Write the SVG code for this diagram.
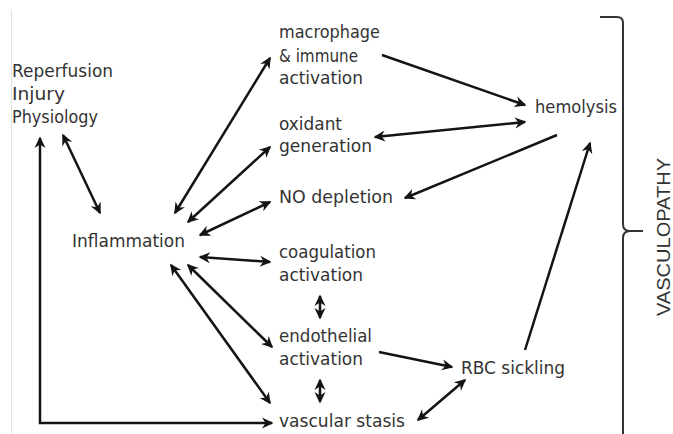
<svg xmlns="http://www.w3.org/2000/svg" width="673" height="434" viewBox="0 0 673 434">
<style>
.t{font-family:"DejaVu Sans","Liberation Sans",sans-serif;font-size:17px;fill:#333}
.c{stroke:#141414;stroke-width:2.5;fill:none;marker-end:url(#ah)}
.b{marker-start:url(#ah)}
</style>
<defs>
<marker id="ah" markerUnits="userSpaceOnUse" markerWidth="16" markerHeight="16" viewBox="-12 -8 16 16" refX="0" refY="0" orient="auto-start-reverse">
<path d="M1.5,0 L-10,-5.5 L-6.5,0 L-10,5.5 Z" fill="#141414"/>
</marker>
</defs>
<rect width="673" height="434" fill="#fff"/>
<line x1="11.5" y1="10" x2="11.5" y2="434" stroke="#e2e2e2" stroke-width="1"/>
<g id="reperfusion"><text class="t" x="12" y="77" textLength="101" lengthAdjust="spacingAndGlyphs">Reperfusion</text><text class="t" x="12" y="100" textLength="53" lengthAdjust="spacingAndGlyphs">Injury</text><text class="t" x="12" y="123" textLength="86" lengthAdjust="spacingAndGlyphs">Physiology</text></g>
<g id="inflammation"><text class="t" x="72" y="247" textLength="113" lengthAdjust="spacingAndGlyphs">Inflammation</text></g>
<g id="macrophage"><text class="t" x="279" y="38" textLength="101" lengthAdjust="spacingAndGlyphs">macrophage</text><text class="t" x="279" y="62" textLength="79" lengthAdjust="spacingAndGlyphs">&amp; immune</text><text class="t" x="279" y="84" textLength="84" lengthAdjust="spacingAndGlyphs">activation</text></g>
<g id="oxidant"><text class="t" x="279" y="130" textLength="63" lengthAdjust="spacingAndGlyphs">oxidant</text><text class="t" x="279" y="152" textLength="93" lengthAdjust="spacingAndGlyphs">generation</text></g>
<g id="no"><text class="t" x="279" y="203" textLength="114" lengthAdjust="spacingAndGlyphs">NO depletion</text></g>
<g id="coagulation"><text class="t" x="279" y="258" textLength="97" lengthAdjust="spacingAndGlyphs">coagulation</text><text class="t" x="279" y="281" textLength="84" lengthAdjust="spacingAndGlyphs">activation</text></g>
<g id="endothelial"><text class="t" x="279" y="342" textLength="93" lengthAdjust="spacingAndGlyphs">endothelial</text><text class="t" x="279" y="365" textLength="84" lengthAdjust="spacingAndGlyphs">activation</text></g>
<g id="stasis"><text class="t" x="279" y="427" textLength="126" lengthAdjust="spacingAndGlyphs">vascular stasis</text></g>
<g id="hemolysis"><text class="t" x="535" y="113" textLength="82" lengthAdjust="spacingAndGlyphs">hemolysis</text></g>
<g id="rbc"><text class="t" x="461" y="374" textLength="104" lengthAdjust="spacingAndGlyphs">RBC sickling</text></g>
<g id="vasculopathy">
<path d="M600,17 L617,17 Q623,17 623,23 L623,224 Q623,231 630,231 L643,231 M630,231 Q623,231 623,238 L623,434" fill="none" stroke="#333" stroke-width="2"/>
<text x="0" y="0" transform="translate(670,237) rotate(-90)" text-anchor="middle" font-family="Liberation Sans, Arial, sans-serif" font-size="19" fill="#333" textLength="158" lengthAdjust="spacingAndGlyphs">VASCULOPATHY</text>
</g>
<g id="connectors">
<path class="c b" d="M175,213 L270,58"/>
<path class="c b" d="M188,222 L270,147"/>
<path class="c b" d="M200,235 L270,202"/>
<path class="c b" d="M200,257 L270,262"/>
<path class="c b" d="M188,265 L272,347"/>
<path class="c b" d="M171,265 L270,403"/>
<path class="c b" d="M63,135 L100,213"/>
<path class="c b" d="M40,138 L40,423 L272,423"/>
<path class="c" d="M382,55 L525,105"/>
<path class="c b" d="M375,137 L525,122"/>
<path class="c" d="M557,135 L405,198"/>
<path class="c b" d="M320,296 L320,318"/>
<path class="c b" d="M320,380 L320,402"/>
<path class="c" d="M379,352 L452,367"/>
<path class="c b" d="M418,420 L465,380"/>
<path class="c" d="M525,350 L590,143"/>
</g>
</svg>
